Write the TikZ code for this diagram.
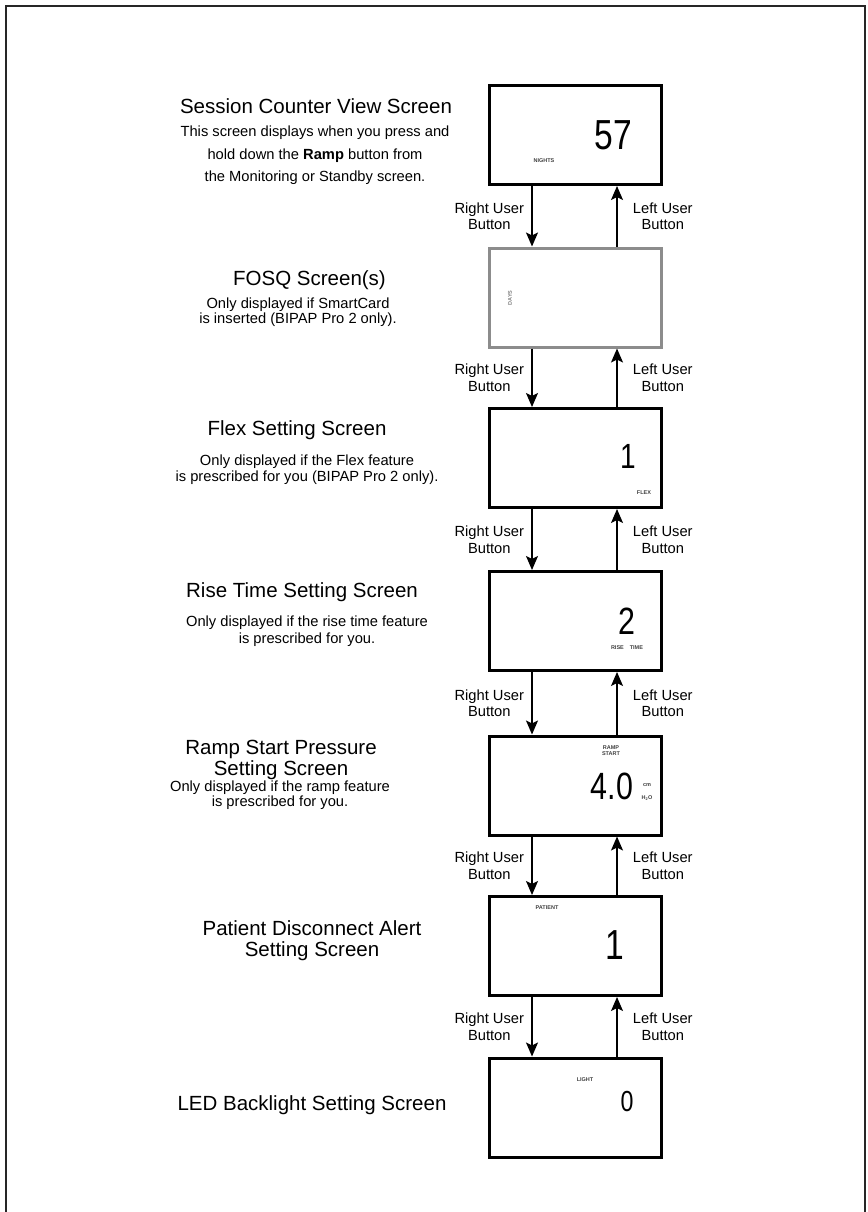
\documentclass[tikz,border=0pt]{standalone}
\usepackage{fontspec}
\setmainfont{Liberation Sans}
\usetikzlibrary{arrows.meta}

\tikzset{
  lcd/.style={draw, line width=3pt, minimum width=172pt, minimum height=99pt, inner sep=0pt},
  flow/.style={line width=1.3pt, -{Stealth[length=14pt,width=12pt,inset=3pt]}},
  title/.style={font=\fontsize{20.5}{21}\selectfont, align=center, inner sep=0pt},
  note/.style={font=\fontsize{14.7}{16}\selectfont, align=center, inner sep=0pt},
  btn/.style={font=\fontsize{14.7}{16.5}\selectfont, align=center},
  digit/.style={font=\fontsize{#1}{#1}\selectfont, xscale=.8, inner sep=0pt},
  tag/.style={font=\fontsize{5.5}{6}\selectfont\bfseries, text=black!75, inner sep=0pt, align=center}
}

\begin{document}
\begin{tikzpicture}[x=1pt,y=-1pt]
\useasboundingbox (0,0) rectangle (867,1212);
\draw[line width=2.5pt, black!85] (6,1212) -- (6,6) -- (865,6) -- (865,1212);

\node[lcd] (s1) at (575.5,135) {};
\node[lcd, draw=black!45] (s2) at (575.5,297.5) {};
\node[lcd] (s3) at (575.5,458) {};
\node[lcd] (s4) at (575.5,621) {};
\node[lcd] (s5) at (575.5,785.5) {};
\node[lcd] (s6) at (575.5,946) {};
\node[lcd] (s7) at (575.5,1107.5) {};

\node[digit=42] (d1) at (613,135) {57};
\node[tag] (g1) at (544,161) {NIGHTS};
\node[tag, rotate=90, text=black!50] (g2) at (510,298) {DAYS};
\node[digit=35] (d3) at (628,456) {1};
\node[tag] (g3) at (644,493) {FLEX};
\node[digit=38] (d4) at (627,621) {2};
\node[tag] (g4) at (627,648) {RISE\hspace{6pt}TIME};
\node[tag] (g5) at (611,751) {RAMP\\START};
\node[digit=38] (d5) at (612,786) {4.0};
\node[tag] (g5a) at (647,785) {cm};
\node[tag] (g5b) at (647,798) {H\textsubscript{2}O};
\node[tag] (g6) at (547,908) {PATIENT};
\node[digit=42] (d6) at (615,945) {1};
\node[tag] (g7) at (585,1080) {LIGHT};
\node[digit=29] (d7) at (627,1102) {0};

\node[title] (t1) at (316,106) {Session Counter View Screen};
\node[note, font=\fontsize{14.7}{22.5}\selectfont] (n1) at (315,155.5) {This screen displays when you press and\\hold down the \textbf{Ramp} button from\\the Monitoring or Standby screen.};
\node[title] (t2) at (309.5,280) {FOSQ Screen(s)};
\node[note, font=\fontsize{14.7}{15}\selectfont] (n2) at (298,312.5) {Only displayed if SmartCard\\is inserted (BIPAP Pro 2 only).};
\node[title] (t3) at (297,430) {Flex Setting Screen};
\node[note] (n3) at (307,470) {Only displayed if the Flex feature\\is prescribed for you (BIPAP Pro 2 only).};
\node[title] (t4) at (302,592) {Rise Time Setting Screen};
\node[note, font=\fontsize{14.7}{17}\selectfont] (n4) at (307,631.5) {Only displayed if the rise time feature\\is prescribed for you.};
\node[title] (t5) at (281,760) {Ramp Start Pressure\\Setting Screen};
\node[note, font=\fontsize{14.7}{15}\selectfont] (n5) at (280,795.5) {Only displayed if the ramp feature\\is prescribed for you.};
\node[title] (t6) at (312,940.5) {Patient Disconnect Alert\\Setting Screen};
\node[title] (t7) at (312,1105) {LED Backlight Setting Screen};

\draw[flow] ([xshift=-43.5pt]s1.south) -- node[btn, left=4pt] (r1) {Right User\\Button} ([xshift=-43.5pt]s2.north);
\draw[flow] ([xshift=41.5pt]s2.north) -- node[btn, right=12pt] (l1) {Left User\\Button} ([xshift=41.5pt]s1.south);
\draw[flow] ([xshift=-43.5pt]s2.south) -- node[btn, left=4pt] (r2) {Right User\\Button} ([xshift=-43.5pt]s3.north);
\draw[flow] ([xshift=41.5pt]s3.north) -- node[btn, right=12pt] (l2) {Left User\\Button} ([xshift=41.5pt]s2.south);
\draw[flow] ([xshift=-43.5pt]s3.south) -- node[btn, left=4pt] (r3) {Right User\\Button} ([xshift=-43.5pt]s4.north);
\draw[flow] ([xshift=41.5pt]s4.north) -- node[btn, right=12pt] (l3) {Left User\\Button} ([xshift=41.5pt]s3.south);
\draw[flow] ([xshift=-43.5pt]s4.south) -- node[btn, left=4pt] (r4) {Right User\\Button} ([xshift=-43.5pt]s5.north);
\draw[flow] ([xshift=41.5pt]s5.north) -- node[btn, right=12pt] (l4) {Left User\\Button} ([xshift=41.5pt]s4.south);
\draw[flow] ([xshift=-43.5pt]s5.south) -- node[btn, left=4pt] (r5) {Right User\\Button} ([xshift=-43.5pt]s6.north);
\draw[flow] ([xshift=41.5pt]s6.north) -- node[btn, right=12pt] (l5) {Left User\\Button} ([xshift=41.5pt]s5.south);
\draw[flow] ([xshift=-43.5pt]s6.south) -- node[btn, left=4pt] (r6) {Right User\\Button} ([xshift=-43.5pt]s7.north);
\draw[flow] ([xshift=41.5pt]s7.north) -- node[btn, right=12pt] (l6) {Left User\\Button} ([xshift=41.5pt]s6.south);
\end{tikzpicture}
\end{document}
